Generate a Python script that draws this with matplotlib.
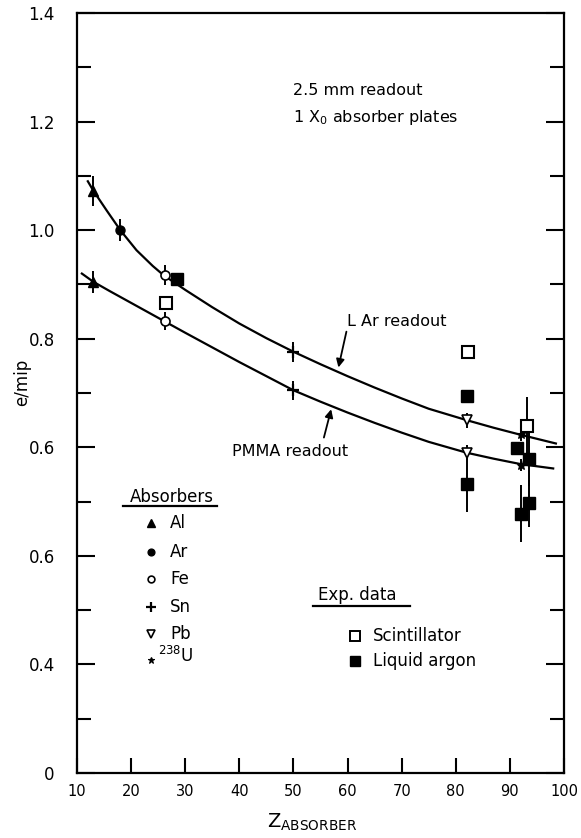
import numpy as np
import matplotlib.pyplot as plt

# calculated e/mip curves (Z of absorber -> e/mip)
z_lar = [12, 13, 15.5, 18, 21, 24, 26, 30, 35, 40, 45, 50, 55, 60, 65, 70, 75, 82, 87, 92, 98.5]
e_lar = [1.090, 1.073, 1.036, 1.000, 0.963, 0.934, 0.917, 0.890, 0.858, 0.828, 0.801,
         0.776, 0.753, 0.731, 0.710, 0.690, 0.671, 0.650, 0.636, 0.623, 0.607]
z_pmma = [10.9, 13, 16, 20, 26, 30, 35, 40, 45, 50, 55, 60, 65, 70, 75, 82, 87, 92, 98]
e_pmma = [0.920, 0.905, 0.888, 0.866, 0.833, 0.811, 0.784, 0.757, 0.731, 0.705,
          0.684, 0.664, 0.645, 0.627, 0.610, 0.590, 0.579, 0.569, 0.561]

# absorber points on the curves: name, Z, e/mip (LAr), err, e/mip (PMMA), err
abs_names = ['Al', 'Ar', 'Fe', 'Sn', 'Pb', 'U']
abs_z = [13, 18, 26.3, 50, 82, 92]
abs_lar = [1.072, 1.000, 0.917, 0.776, 0.650, 0.624]
abs_lar_err = [0.028, 0.020, 0.018, 0.018, 0.014, 0.012]
abs_pmma = [0.905, None, 0.833, 0.705, 0.590, 0.568]
abs_pmma_err = [0.020, None, 0.017, 0.017, 0.014, 0.011]

# experimental data
scint_z = [26.5, 82.3, 93.1]
scint_e = [0.866, 0.775, 0.640]
scint_err = [0, 0, 0.052]
lar_z = [28.4, 82.0, 82.0, 91.3, 93.6, 93.6, 92.0]
lar_e = [0.910, 0.695, 0.533, 0.598, 0.578, 0.497, 0.478]
lar_err = [0, 0, 0.053, 0, 0.05, 0.043, 0.052]

yticks = [0, 0.2, 0.4, 0.6, 0.8, 1.0, 1.2, 1.4]
ytick_labels = ['0', '0.4', '0.6', '0.6', '0.8', '1.0', '1.2', '1.4']
xticks = list(range(10, 101, 10))

# marker style per absorber
sty = {
    'Al': dict(marker='^', ms=7.5, mfc='k', mec='k'),
    'Ar': dict(marker='o', ms=6.5, mfc='k', mec='k'),
    'Fe': dict(marker='o', ms=6.5, mfc='white', mec='k', mew=1.2),
    'Sn': dict(marker='+', ms=9, mfc='k', mec='k', mew=1.6),
    'Pb': dict(marker='v', ms=7.5, mfc='white', mec='k', mew=1.2),
    'U': dict(marker='*', ms=6.5, mfc='k', mec='k', mew=0.8),
}

fig = plt.figure(figsize=(5.81, 8.38), dpi=100)
ax = fig.add_axes([77 / 581, 65 / 838, 487 / 581, 760 / 838])

ax.plot(z_lar, e_lar, color='k', lw=1.6, zorder=2)
ax.plot(z_pmma, e_pmma, color='k', lw=1.6, zorder=2)

for i, name in enumerate(abs_names):
    ax.errorbar(abs_z[i], abs_lar[i], yerr=abs_lar_err[i], fmt='none',
                ecolor='k', elinewidth=1.4, capsize=0, zorder=3)
    ax.plot(abs_z[i], abs_lar[i], ls='none', zorder=4, **sty[name])
    if abs_pmma[i] is not None:
        ax.errorbar(abs_z[i], abs_pmma[i], yerr=abs_pmma_err[i], fmt='none',
                    ecolor='k', elinewidth=1.4, capsize=0, zorder=3)
        ax.plot(abs_z[i], abs_pmma[i], ls='none', zorder=4, **sty[name])

ax.errorbar(scint_z, scint_e, yerr=scint_err, fmt='none', ecolor='k',
            elinewidth=1.4, capsize=0, zorder=3)
ax.plot(scint_z, scint_e, 's', ms=9, mfc='white', mec='k', mew=1.5, zorder=5)
ax.errorbar(lar_z, lar_e, yerr=lar_err, fmt='none', ecolor='k',
            elinewidth=1.4, capsize=0, zorder=3)
ax.plot(lar_z, lar_e, 's', ms=9, mfc='k', mec='k', zorder=5)

# text labels
ax.text(49.9, 1.258, '2.5 mm readout', fontsize=11.5, va='center')
ax.text(49.9, 1.208, '1 X$_\\mathregular{0}$ absorber plates', fontsize=11.5, va='center')
ax.text(59.9, 0.831, 'L Ar readout', fontsize=11.5, va='center')
ax.annotate('', xy=(58.2, 0.742), xytext=(59.9, 0.818),
            arrowprops=dict(arrowstyle='-|>', color='k', lw=1.3, mutation_scale=12))
ax.text(38.7, 0.592, 'PMMA readout', fontsize=11.5, va='center')
ax.annotate('', xy=(57.1, 0.675), xytext=(55.5, 0.613),
            arrowprops=dict(arrowstyle='-|>', color='k', lw=1.3, mutation_scale=12))

# absorber key
ax.text(19.8, 0.508, 'Absorbers', fontsize=12, va='center')
ax.plot([18.5, 35.9], [0.491, 0.491], color='k', lw=1.6)
key_y = [0.460, 0.408, 0.357, 0.305, 0.256, 0.208]
for name, y in zip(abs_names, key_y):
    s = dict(sty[name])
    s['ms'] = s['ms'] * 0.75
    ax.plot(23.7, y, ls='none', clip_on=False, **s)
    if name == 'U':
        ax.text(25.0, y + 0.008, '$^\\mathregular{238}$U', fontsize=12, va='center')
    else:
        ax.text(27.2, y, name, fontsize=12, va='center')

# experimental data key
ax.text(54.5, 0.327, 'Exp. data', fontsize=12, va='center')
ax.plot([53.6, 71.6], [0.307, 0.307], color='k', lw=1.6)
ax.plot(61.4, 0.252, 's', ms=6.5, mfc='white', mec='k', mew=1.4)
ax.text(64.7, 0.252, 'Scintillator', fontsize=12, va='center')
ax.plot(61.4, 0.206, 's', ms=6.5, mfc='k', mec='k')
ax.text(64.7, 0.206, 'Liquid argon', fontsize=12, va='center')

ax.set_xlim(10, 100)
ax.set_ylim(0, 1.4)
ax.set_xticks(xticks)
ax.set_xticklabels([str(t) for t in xticks], fontsize=10.5)
ax.set_yticks(yticks)
ax.set_yticklabels(ytick_labels, fontsize=12)
ax.set_yticks(np.arange(0.1, 1.4, 0.2), minor=True)
ax.tick_params(axis='x', direction='in', length=11, width=1.5, pad=8)
ax.tick_params(axis='y', which='major', direction='in', length=13, width=1.5,
               pad=16, right=True)
ax.tick_params(axis='y', which='minor', direction='in', length=10, width=1.5, right=True)
for sp in ax.spines.values():
    sp.set_linewidth(1.6)

# axis titles
fig.text(22 / 581, 1 - 382 / 838, 'e/mip', fontsize=12, rotation=90,
         ha='center', va='center')
fig.text(312 / 581, 1 - 822 / 838, '$\\mathregular{Z_{ABSORBER}}$', fontsize=14,
         ha='center', va='center')

fig.savefig('out.png', dpi=100)
